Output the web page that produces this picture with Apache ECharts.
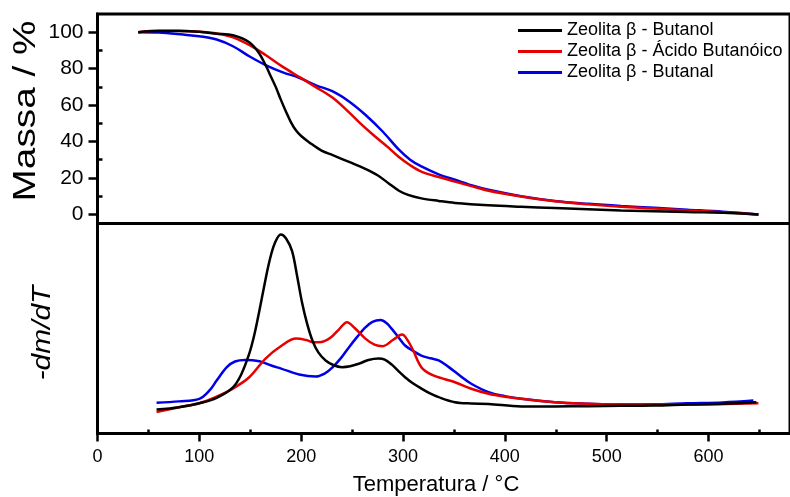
<!DOCTYPE html>
<html>
<head>
<meta charset="utf-8">
<script src="https://cdn.jsdelivr.net/npm/echarts@6/dist/echarts.min.js"></script>
<style>
  html, body { margin: 0; padding: 0; background: #fff; }
  #chart { width: 790px; height: 497px; }
</style>
</head>
<body>
<div id="chart"></div>
<script>
// Series names
const seriesNames = ['Zeolita β - Butanol', 'Zeolita β - Ácido Butanóico', 'Zeolita β - Butanal'];
const seriesColors = ['#000000', '#e60000', '#0000e6'];

// Tick values
const tempTicks = [0, 100, 200, 300, 400, 500, 600];
const tempMinorTicks = [50, 150, 250, 350, 450, 550, 650];
const massTicks = [0, 20, 40, 60, 80, 100];
const massMinorTicks = [10, 30, 50, 70, 90];

// TG curves: temperature (°C) and residual mass (%)
const butanolTgT    = [40, 60, 80, 100, 117, 133, 149, 158, 165, 170, 175, 180, 185, 190, 195, 200, 208, 220, 231, 247, 263, 275, 286, 296, 305, 318, 335, 351, 384, 416, 449, 514, 579, 620, 649];
const butanolMass   = [100, 100.6, 100.6, 100.2, 99.2, 98.3, 94.5, 89, 82, 76, 70, 63, 56.5, 50.5, 46, 43, 39.5, 35, 32.5, 28.8, 25, 21.5, 17, 13, 10.7, 8.8, 7.4, 6.3, 5, 4.2, 3.5, 2.2, 1.3, 0.8, 0];

const acidoTgT      = [40, 60, 80, 100, 117, 133, 149, 165, 182, 198, 214, 231, 247, 257, 270, 286, 296, 307, 318, 335, 351, 367, 384, 416, 449, 482, 514, 547, 579, 614, 649];
const acidoMass     = [100, 100.8, 100.8, 100.2, 99.3, 97.2, 93, 87.5, 81, 75.5, 70, 64, 56, 50.5, 44, 36.5, 31.5, 27, 23.5, 20.5, 18, 15.5, 13, 9.8, 7.2, 5.5, 4.2, 3.2, 2.2, 1.2, 0];

const butanalTgT    = [40, 60, 84, 100, 117, 133, 149, 165, 182, 198, 214, 231, 247, 263, 280, 296, 307, 318, 335, 351, 367, 384, 416, 449, 482, 514, 547, 579, 614, 649];
const butanalMass   = [100, 99.8, 98.7, 97.8, 96, 92.3, 86.8, 82, 78, 75, 71, 67.5, 62, 54.7, 45.5, 35.5, 30, 26.3, 22, 19, 16, 13.5, 10, 7.4, 5.8, 4.6, 3.6, 2.6, 1.5, 0];

// DTG curves: temperature (°C) and -dm/dT (arbitrary units)
const butanolDtgT   = [58, 80, 100, 117, 133, 141, 149, 154, 159, 164, 169, 174, 180, 185, 191, 196, 201, 206, 211, 217, 224, 232, 240, 248, 257, 266, 276, 282, 289, 296, 302, 310, 318, 326, 335, 351, 367, 384, 416, 449, 482, 514, 547, 579, 614, 647];
const butanolDtg    = [11.4, 12.5, 14.4, 17, 22, 28, 38, 47, 58.6, 71, 82.4, 90.5, 94.8, 93, 87, 75, 62, 52, 44.3, 38.5, 34.8, 32.5, 31.6, 32, 33.3, 35, 35.7, 35.2, 32.8, 29.5, 26.8, 23.8, 21.4, 19.2, 17.3, 14.9, 14.3, 14.1, 12.9, 12.9, 13, 13.2, 13.3, 13.8, 14.2, 14.9];

const acidoDtgT     = [58, 80, 100, 117, 133, 149, 165, 181, 195, 205, 212, 220, 229, 237, 245, 252, 263, 272, 280, 290, 299, 305, 310, 318, 328, 340, 351, 367, 384, 400, 416, 449, 482, 514, 579, 649];
const acidoDtg      = [10.2, 12.5, 14.4, 17.5, 21.4, 26.8, 35.7, 41.9, 45.2, 44.5, 43.5, 43.6, 45.7, 49.5, 53, 50.5, 45.2, 42.3, 41.6, 44.5, 47.1, 44, 39.5, 31.6, 28, 26, 24.4, 21.3, 18.9, 17.5, 16.5, 14.9, 14.2, 13.8, 13.8, 14.4];

const butanalDtgT   = [58, 80, 100, 110, 117, 127, 135, 145, 159, 170, 181, 198, 214, 223, 231, 240, 247, 255, 263, 270, 278, 284, 289, 296, 302, 310, 318, 327, 335, 345, 356, 367, 384, 400, 416, 449, 482, 514, 547, 579, 614, 644];
const butanalDtg    = [14.6, 15.3, 16.5, 20.5, 25.2, 31.6, 34.3, 35, 34.4, 32.5, 30.8, 28.1, 27.1, 28.5, 31.6, 36.5, 41.1, 46, 50.5, 53.2, 54, 52.5, 49.8, 45.5, 41.9, 39.3, 37.1, 35.8, 34.8, 31.6, 27.5, 23.7, 19.7, 17.8, 16.5, 14.9, 14.2, 13.8, 13.9, 14.4, 14.8, 15.7];

function pairs(xs, ys) {
  return xs.map((x, i) => [x, ys[i]]);
}

const tgData  = [pairs(butanolTgT, butanolMass), pairs(acidoTgT, acidoMass), pairs(butanalTgT, butanalMass)];
const dtgData = [pairs(butanolDtgT, butanolDtg), pairs(acidoDtgT, acidoDtg), pairs(butanalDtgT, butanalDtg)];

const FONT = 'Liberation Sans, Arial, sans-serif';
const X_MAX = 680;

const chart = echarts.init(document.getElementById('chart'), null, { renderer: 'canvas' });

const series = [];
seriesNames.forEach((name, i) => {
  series.push({
    name, type: 'line', xAxisIndex: 0, yAxisIndex: 0,
    data: tgData[i], symbol: 'none', smooth: 0.35,
    lineStyle: { color: seriesColors[i], width: 2.5 }, itemStyle: { color: seriesColors[i] },
    z: 3 - i
  });
  series.push({
    name, type: 'line', xAxisIndex: 1, yAxisIndex: 2,
    data: dtgData[i], symbol: 'none', smooth: 0.35,
    lineStyle: { color: seriesColors[i], width: 2.5 }, itemStyle: { color: seriesColors[i] },
    z: 3 - i
  });
});

const option = {
  backgroundColor: '#ffffff',
  animation: false,
  grid: [
    { left: 97.5, right: -4, top: 14, height: 209.5, show: true, borderColor: '#000', borderWidth: 3, containLabel: false },
    { left: 97.5, right: -4, top: 223.5, height: 210, show: true, borderColor: '#000', borderWidth: 3, containLabel: false }
  ],
  legend: {
    orient: 'vertical',
    left: 518, top: 20, padding: 0,
    itemWidth: 44, itemHeight: 3, itemGap: 0,
    icon: 'rect',
    textStyle: { fontFamily: FONT, fontSize: 18, color: '#000', lineHeight: 21 },
    data: seriesNames
  },
  xAxis: [
    { type: 'value', gridIndex: 0, min: 0, max: X_MAX,
      axisLine: { show: false }, axisTick: { show: false }, axisLabel: { show: false }, splitLine: { show: false } },
    { type: 'value', gridIndex: 1, min: 0, max: X_MAX,
      axisLine: { show: true, onZero: false, lineStyle: { color: '#000', width: 3 } },
      axisTick: { show: true, customValues: tempTicks, length: 8, lineStyle: { color: '#000', width: 2.5 } },
      axisLabel: { show: true, customValues: tempTicks, margin: 15, fontFamily: FONT, fontSize: 18, color: '#000' },
      splitLine: { show: false } },
    { type: 'value', gridIndex: 1, min: 0, max: X_MAX,
      axisLine: { show: false },
      axisTick: { show: true, customValues: tempMinorTicks, length: 4, lineStyle: { color: '#000', width: 2.5 } },
      axisLabel: { show: false }, splitLine: { show: false } }
  ],
  yAxis: [
    { type: 'value', gridIndex: 0, min: -5, max: 110,
      axisLine: { show: true, onZero: false, lineStyle: { color: '#000', width: 3 } },
      axisTick: { show: true, customValues: massTicks, length: 9, lineStyle: { color: '#000', width: 2.5 } },
      axisLabel: { show: true, customValues: massTicks, margin: 14, fontFamily: FONT, fontSize: 21, color: '#000' },
      splitLine: { show: false } },
    { type: 'value', gridIndex: 0, min: -5, max: 110,
      axisLine: { show: false },
      axisTick: { show: true, customValues: massMinorTicks, length: 5, lineStyle: { color: '#000', width: 2.5 } },
      axisLabel: { show: false }, splitLine: { show: false } },
    { type: 'value', gridIndex: 1, min: 0, max: 100,
      axisLine: { show: true, onZero: false, lineStyle: { color: '#000', width: 3 } },
      axisTick: { show: false }, axisLabel: { show: false }, splitLine: { show: false } }
  ],
  graphic: [
    { type: 'text', x: 26, y: 111, rotation: Math.PI / 2, scaleX: 1.25, scaleY: 1,
      style: { text: 'Massa / %', font: '31px ' + FONT, fill: '#000', align: 'center', verticalAlign: 'middle' } },
    { type: 'text', x: 43, y: 333, rotation: Math.PI / 2, scaleX: 1.15,
      style: { text: '-dm/dT', font: 'italic 26px ' + FONT, fill: '#000', align: 'center', verticalAlign: 'middle' } },
    { type: 'text', x: 436, y: 485,
      style: { text: 'Temperatura / °C', font: '22px ' + FONT, fill: '#000', align: 'center', verticalAlign: 'middle' } }
  ],
  series
};

chart.setOption(option);
</script>
</body>
</html>
